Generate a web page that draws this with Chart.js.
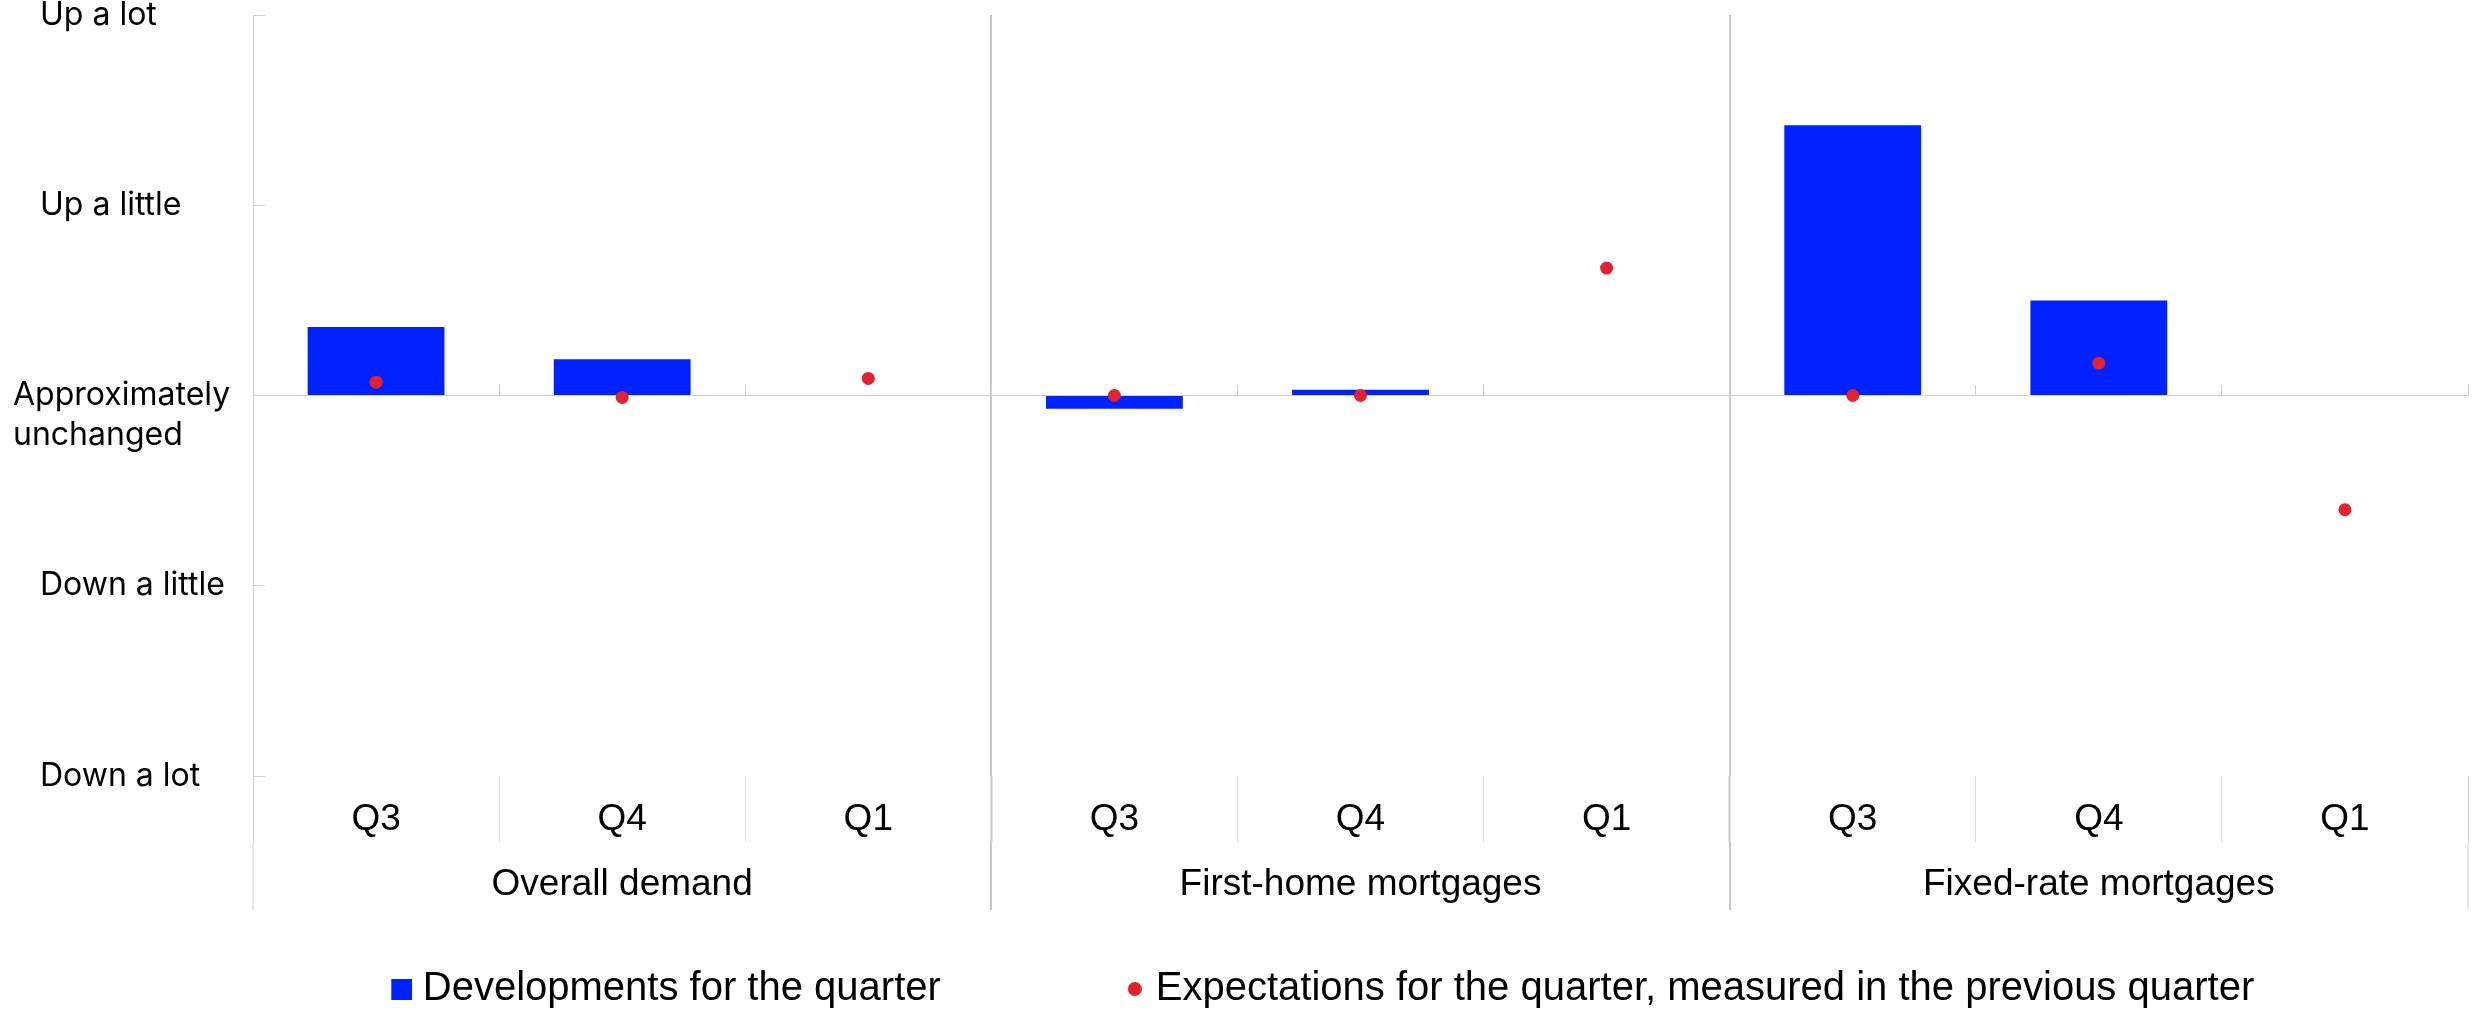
<!DOCTYPE html>
<html>
<head>
<meta charset="utf-8">
<script src="https://cdn.jsdelivr.net/npm/chart.js@4.4.1/dist/chart.umd.min.js"></script>
<style>
  html, body { margin: 0; padding: 0; background: #fff; }
  #wrap { width: 2484px; height: 1011px; }
</style>
</head>
<body>
<div id="wrap"><canvas id="lendingChart" width="2484" height="1011"></canvas></div>
<script>
const quarters = ["Q3", "Q4", "Q1", "Q3", "Q4", "Q1", "Q3", "Q4", "Q1"];
const groups = ["Overall demand", "First-home mortgages", "Fixed-rate mortgages"];
const developments = [0.36, 0.19, null, -0.07, 0.03, null, 1.42, 0.5, null];
const expectations = [0.07, -0.01, 0.09, 0, 0, 0.67, 0, 0.17, -0.6];
const levelValues = [-2, -1, 0, 1, 2];
const levelLabels = ["Down a lot", "Down a little", ["Approximately", "unchanged"], "Up a little", "Up a lot"];

const BLUE = "#0022ff";
const RED = "#e0232f";
const AXIS_LINE = "#d0d0d0";
const SEP_LINE = "#dedede";
const GROUP_LINE = "#c8c8c8";
const SANS = "'Liberation Sans', Arial, sans-serif";

// legend markers sit at the right end of a wide point-style box
const MARKER_BOX = 176;
const MARKER_OFFSET = MARKER_BOX / 2 - 1;
function legendMarker(half, paint) {
  const c = document.createElement("canvas");
  c.width = 2 * (MARKER_OFFSET + half);
  c.height = 2 * half;
  paint(c.getContext("2d"), c.width - half, half);
  return c;
}
const rectMarker = legendMarker(10.5, (g, cx, cy) => {
  g.fillStyle = BLUE;
  g.fillRect(cx - 10.5, cy - 10.5, 21, 21);
});
const dotMarker = legendMarker(7, (g, cx, cy) => {
  g.fillStyle = RED;
  g.beginPath();
  g.arc(cx, cy, 7, 0, Math.PI * 2);
  g.fill();
});

const isGroupEdge = (ctx) => ctx.index === 3 || ctx.index === 6;

new Chart(document.getElementById("lendingChart"), {
  type: "bar",
  data: {
    labels: quarters,
    datasets: [
      {
        label: "Developments for the quarter",
        data: developments,
        backgroundColor: BLUE,
        borderWidth: 0,
        barPercentage: 0.556,
        categoryPercentage: 1,
        xAxisID: "x",
        yAxisID: "y",
        order: 1,
      },
      {
        type: "line",
        label: "Expectations for the quarter, measured in the previous quarter",
        data: expectations,
        showLine: false,
        pointRadius: 6.5,
        pointHoverRadius: 6.5,
        pointBackgroundColor: RED,
        pointBorderWidth: 0,
        xAxisID: "x",
        yAxisID: "y",
        order: 0,
      },
    ],
  },
  options: {
    responsive: false,
    animation: false,
    events: [],
    layout: {
      padding: { top: 15, right: 16, bottom: -8, left: 13 },
    },
    plugins: {
      tooltip: { enabled: false },
      legend: {
        position: "bottom",
        labels: {
          usePointStyle: true,
          pointStyleWidth: MARKER_BOX,
          padding: 19,
          color: "#000",
          font: { family: SANS, size: 40 },
          generateLabels: (chart) => {
            const ds = chart.data.datasets;
            return [
              { text: ds[0].label, pointStyle: rectMarker, fillStyle: BLUE, strokeStyle: BLUE, lineWidth: 0, fontColor: "#000", hidden: false, datasetIndex: 0 },
              { text: ds[1].label, pointStyle: dotMarker, fillStyle: RED, strokeStyle: RED, lineWidth: 0, fontColor: "#000", hidden: false, datasetIndex: 1 },
            ];
          },
        },
      },
    },
    scales: {
      x: {
        type: "category",
        position: "bottom",
        offset: true,
        border: { display: false },
        grid: {
          offset: true,
          drawOnChartArea: false,
          drawTicks: true,
          tickLength: 66,
          tickColor: (ctx) => (isGroupEdge(ctx) ? GROUP_LINE : ctx.index === 0 || ctx.index === undefined ? AXIS_LINE : SEP_LINE),
          tickWidth: (ctx) => (isGroupEdge(ctx) ? 2 : 1),
        },
        ticks: {
          color: "#000",
          font: { family: SANS, size: 37 },
          padding: -44,
          maxRotation: 0,
          autoSkip: false,
        },
        afterFit: (s) => {
          s.height = 66;
          s.paddingLeft = 0;
          s.paddingRight = 0;
        },
      },
      group: {
        type: "category",
        labels: groups,
        position: "bottom",
        offset: true,
        border: { display: false },
        grid: {
          offset: true,
          drawOnChartArea: true,
          drawTicks: true,
          tickLength: 68,
          lineWidth: 2,
          color: (ctx) => (ctx.index === 1 || ctx.index === 2 ? GROUP_LINE : "rgba(0,0,0,0)"),
          tickColor: (ctx) => (ctx.index === 1 || ctx.index === 2 ? GROUP_LINE : AXIS_LINE),
          tickWidth: (ctx) => (ctx.index === 1 || ctx.index === 2 ? 2 : 1),
        },
        ticks: {
          color: "#000",
          font: { family: SANS, size: 37 },
          padding: -47,
          maxRotation: 0,
          autoSkip: false,
        },
        afterFit: (s) => {
          s.height = 108;
          s.paddingLeft = 0;
          s.paddingRight = 0;
        },
      },
      // horizontal axis crossing at "approximately unchanged", ticks pointing up
      zero: {
        type: "category",
        axis: "x",
        labels: quarters,
        position: { y: 0 },
        offset: true,
        border: { display: true, color: AXIS_LINE, width: 1 },
        grid: {
          offset: true,
          drawOnChartArea: false,
          drawTicks: true,
          tickLength: -11,
          tickColor: AXIS_LINE,
        },
        ticks: { display: false },
      },
      y: {
        position: "left",
        min: -2,
        max: 2,
        border: { display: true, color: AXIS_LINE, width: 1 },
        grid: {
          drawOnChartArea: false,
          drawTicks: true,
          tickLength: -12,
          tickColor: AXIS_LINE,
        },
        ticks: {
          stepSize: 1,
          crossAlign: "far",
          color: "#000",
          font: { family: "Inter", size: 32, lineHeight: 1.25 },
          callback: (value) => {
            const label = levelLabels[levelValues.indexOf(value)];
            // the wrapped label hangs below its tick and sits further left;
            // one-line labels are indented
            return Array.isArray(label) ? ["", ...label] : "   " + label;
          },
        },
        afterFit: (s) => {
          s.width = 240;
          s.paddingTop = 0;
          s.paddingBottom = 0;
        },
      },
    },
  },
});
</script>
</body>
</html>
